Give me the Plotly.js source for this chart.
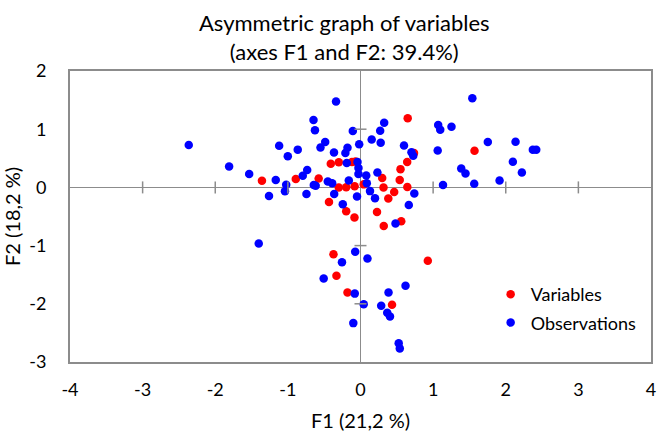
<!DOCTYPE html>
<html>
<head>
<meta charset="utf-8">
<script src="https://cdn.plot.ly/plotly-3.0.1.min.js"></script>
<style>html,body{margin:0;padding:0;background:#fff;}#chart{width:657px;height:432px;}</style>
</head>
<body>
<div id="chart"></div>
<script>
// Variables (red)
var varF1 = [-1.357,-0.891,-0.576,-0.409,-0.299,-0.299,-0.434,-0.197,-0.197,-0.081,-0.083,-0.117,-0.069,0.044,0.650,0.737,1.570,0.643,0.551,0.540,0.299,0.317,0.464,0.645,0.383,0.227,0.320,0.561,-0.372,0.927,-0.331,-0.179,0.434];
var varF2 = [0.113,0.146,0.151,0.405,0.431,-0.002,-0.249,-0.411,0.002,0.021,-0.517,0.438,0.443,0.052,1.187,0.589,0.629,0.435,0.314,0.127,0.160,0.000,-0.079,0.005,-0.192,-0.421,-0.663,-0.582,-1.149,-1.261,-1.519,-1.804,-2.017];
// Observations (blue)
var obsF1 = [-2.365,-1.809,-1.533,-1.401,-1.167,-1.260,-1.120,-1.001,-0.864,-1.040,-1.023,-0.795,-0.734,-0.744,-0.647,-0.627,-0.551,-0.486,-0.643,-0.617,-0.450,-0.390,-0.365,-0.337,-0.362,-0.244,-0.106,-0.208,-0.179,-0.189,-0.161,-0.048,-0.018,-0.041,-0.028,-0.028,1.540,0.326,0.271,0.154,0.278,0.599,0.702,0.726,1.070,1.098,1.253,1.753,2.135,2.373,2.420,1.063,0.233,0.079,0.087,0.131,0.741,0.200,0.665,1.136,1.566,1.387,1.446,1.915,2.098,2.222,0.482,-0.073,0.096,-0.255,-0.507,0.620,-0.079,0.386,0.044,0.285,0.368,0.406,-0.099,0.526,0.541];
var obsF2 = [0.727,0.359,0.229,-0.964,0.127,-0.149,0.715,0.534,0.649,-0.067,0.045,0.199,0.297,-0.112,1.160,0.981,0.684,0.782,0.041,0.027,0.100,0.070,0.598,1.474,-0.112,-0.290,0.971,0.591,0.682,0.418,0.120,-0.155,0.741,0.435,0.332,0.229,1.531,1.110,0.973,0.823,0.766,0.720,0.603,0.543,1.072,0.990,1.041,0.782,0.784,0.646,0.646,0.634,0.256,0.203,0.070,-0.064,-0.105,-0.187,-0.304,0.041,0.062,0.325,0.239,0.119,0.440,0.256,-0.620,-1.107,-1.222,-1.287,-1.565,-1.691,-1.825,-1.806,-2.009,-2.034,-2.155,-2.218,-2.332,-2.679,-2.766];

var xTicks = [-4,-3,-2,-1,0,1,2,3,4];
var yTicks = [-3,-2,-1,0,1,2];
var xTickText = ['-4','-3','-2','-1','0','1','2','3','4'];
var yTickText = ['-3','-2','-1','0','1','2'];

var FONT = 'Lato, "Open Sans", sans-serif';
var GREY = '#8c8c8c';

var shapes = [];
xTicks.forEach(function(v){
  if (v === 0 || v === xTicks[0] || v === xTicks[xTicks.length-1]) return;
  shapes.push({type:'line', xref:'x', yref:'y', x0:v, x1:v, ysizemode:'pixel', yanchor:0, y0:-6, y1:6, line:{color:GREY, width:1.5}});
});
yTicks.forEach(function(v){
  if (v === 0 || v === yTicks[0] || v === yTicks[yTicks.length-1]) return;
  shapes.push({type:'line', xref:'x', yref:'y', y0:v, y1:v, xsizemode:'pixel', xanchor:0, x0:-6, x1:6, line:{color:GREY, width:1.5}});
});

var traces = [
  {type:'scatter', mode:'markers', name:'Variables', x:varF1, y:varF2, legendgroup:'a',
   marker:{color:'#ff0000', size:8.5}},
  {type:'scatter', mode:'markers', name:'Observations', x:obsF1, y:obsF2, legendgroup:'b',
   marker:{color:'#0000ff', size:8.5}}
];

var layout = {
  width:657, height:432,
  margin:{l:70, r:6, t:71, b:70},
  paper_bgcolor:'#fff', plot_bgcolor:'#fff',
  font:{family:FONT, color:'#000', size:18},
  title:{text:'Asymmetric graph of variables<br>(axes F1 and F2: 39.4%)', x:0.524, xanchor:'center', y:0.928, yanchor:'top', xref:'container', yref:'container', font:{family:FONT, size:22, color:'#000'}},
  xaxis:{range:[-4,4], tickvals:xTicks, ticktext:xTickText, showgrid:false, zeroline:true, zerolinecolor:GREY, zerolinewidth:1.5,
    showline:true, mirror:true, linecolor:GREY, linewidth:2, ticks:'', ticklabelstandoff:10,
    tickfont:{family:FONT, size:18, color:'#000'},
    title:{text:'F1 (21,2 %)', font:{family:FONT, size:20, color:'#000'}, standoff:17}},
  yaxis:{range:[-3,2], tickvals:yTicks, ticktext:yTickText, showgrid:false, zeroline:true, zerolinecolor:GREY, zerolinewidth:1.5,
    showline:true, mirror:true, linecolor:GREY, linewidth:2, ticks:'', ticklabelstandoff:18,
    tickfont:{family:FONT, size:18, color:'#000'},
    title:{text:'F2 (18,2 %)', font:{family:FONT, size:20, color:'#000'}, standoff:7}},
  showlegend:true,
  legend:{x:0.724, y:0.184, xanchor:'left', yanchor:'middle', bgcolor:'rgba(0,0,0,0)', traceorder:'grouped', tracegroupgap:2,
    font:{family:FONT, size:18, color:'#000'}, itemwidth:30},
  shapes:shapes
};

Plotly.newPlot('chart', traces, layout, {displayModeBar:false, staticPlot:true});
</script>
</body>
</html>
